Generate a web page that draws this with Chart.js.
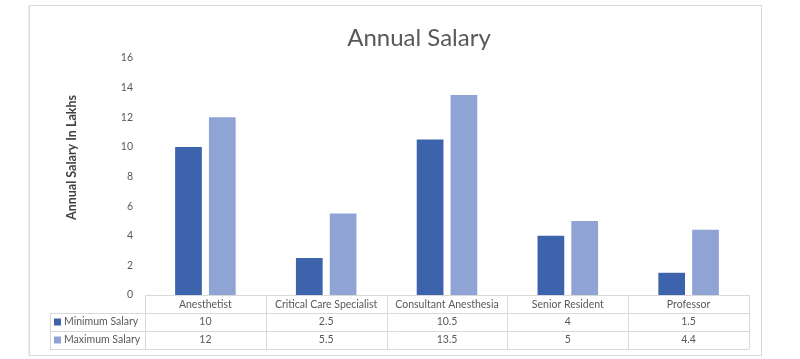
<!DOCTYPE html>
<html>
<head>
<meta charset="utf-8">
<script src="https://cdn.jsdelivr.net/npm/chart.js@4.4.1/dist/chart.umd.min.js"></script>
<style>
  html, body { margin: 0; padding: 0; background: #ffffff; }
  body { width: 800px; height: 359px; position: relative; overflow: hidden; }
  #frame { position: absolute; left: 29px; top: 5px; width: 731px; height: 349px; border: 1px solid #d9d9d9; box-shadow: -1px 0 0 #efefef; }
  #wrap { position: absolute; left: 38px; top: 0; width: 762px; height: 359px; }
</style>
</head>
<body>
<div id="frame"></div>
<div id="wrap"><canvas id="c" width="762" height="359"></canvas></div>
<script>
const categories = ["Anesthetist", "Critical Care Specialist", "Consultant Anesthesia", "Senior Resident", "Professor"];
const minimumSalary = [10, 2.5, 10.5, 4, 1.5];
const maximumSalary = [12, 5.5, 13.5, 5, 4.4];
const minimumLabels = ["10", "2.5", "10.5", "4", "1.5"];
const maximumLabels = ["12", "5.5", "13.5", "5", "4.4"];
const seriesNames = ["Minimum Salary", "Maximum Salary"];
const seriesColors = ["#3c63ac", "#8fa3d5"];
const chartTitle = "Annual Salary";
const yAxisTitle = "Annual Salary In Lakhs";

const FONT = "Lato, 'Open Sans', sans-serif";
const TEXT = "#595959";
const LINE = "#d9d9d9";
const ROW_H = 18;

const tablePlugin = {
  id: 'dataTable',
  afterDraw(chart) {
    const ctx = chart.ctx;
    const area = chart.chartArea;
    const x = chart.scales.x;
    const n = categories.length;
    const left = area.left, right = area.right;
    const top = area.bottom;
    const legendLeft = left - 95;
    const step = (right - left) / n;
    ctx.save();

    // chart title
    ctx.fillStyle = TEXT;
    ctx.font = "24px " + FONT;
    ctx.textAlign = "center";
    ctx.textBaseline = "middle";
    ctx.fillText(chartTitle, chart.width / 2, area.top - 20);

    ctx.strokeStyle = LINE;
    ctx.lineWidth = 1;
    ctx.beginPath();
    // horizontal lines
    ctx.moveTo(left, top + 0.5); ctx.lineTo(right, top + 0.5);
    for (let r = 1; r <= 3; r++) {
      const yy = Math.round(top + r * ROW_H) + 0.5;
      ctx.moveTo(legendLeft, yy); ctx.lineTo(right, yy);
    }
    // vertical lines
    for (let i = 0; i <= n; i++) {
      const xx = Math.round(left + i * step) + 0.5;
      ctx.moveTo(xx, top); ctx.lineTo(xx, top + 3 * ROW_H);
    }
    ctx.moveTo(legendLeft + 0.5, top + ROW_H); ctx.lineTo(legendLeft + 0.5, top + 3 * ROW_H);
    ctx.stroke();

    // values
    ctx.fillStyle = TEXT;
    ctx.font = "10.5px " + FONT;
    ctx.textAlign = "center";
    ctx.textBaseline = "middle";
    const rows = [minimumLabels, maximumLabels];
    rows.forEach((vals, r) => {
      const yy = top + (r + 1.5) * ROW_H;
      vals.forEach((v, i) => {
        ctx.fillText(v, x.getPixelForValue(i), yy);
      });
      // legend key
      ctx.fillStyle = seriesColors[r];
      ctx.fillRect(legendLeft + 4, yy - 3.5, 7, 7);
      ctx.fillStyle = TEXT;
      ctx.textAlign = "left";
      ctx.fillText(seriesNames[r], legendLeft + 14, yy);
      ctx.textAlign = "center";
    });

    // y axis title
    ctx.save();
    ctx.translate(34, (area.top + area.bottom) / 2 - 19);
    ctx.rotate(-Math.PI / 2);
    ctx.font = "bold 12.5px " + FONT;
    ctx.fillStyle = "#404040";
    ctx.textAlign = "center";
    ctx.textBaseline = "middle";
    ctx.fillText(yAxisTitle, 0, 0);
    ctx.restore();
    ctx.restore();
  }
};

new Chart(document.getElementById('c'), {
  type: 'bar',
  data: {
    labels: categories,
    datasets: [
      { label: seriesNames[0], data: minimumSalary, backgroundColor: seriesColors[0] },
      { label: seriesNames[1], data: maximumSalary, backgroundColor: seriesColors[1] }
    ]
  },
  options: {
    responsive: false,
    animation: false,
    devicePixelRatio: 1,
    categoryPercentage: 0.56,
    barPercentage: 0.79,
    layout: { padding: { left: 0, right: 51, top: 58, bottom: 10 + 2 * ROW_H } },
    plugins: {
      legend: { display: false },
      tooltip: { enabled: false },
      title: { display: false }
    },
    scales: {
      x: {
        grid: { display: false, drawTicks: false },
        border: { display: false },
        ticks: { color: TEXT, font: { family: FONT, size: 10.5 }, padding: 3, maxRotation: 0, autoSkip: false },
        afterFit(s) { s.height = ROW_H; }
      },
      y: {
        min: 0, max: 16,
        grid: { display: false, drawTicks: false },
        border: { display: false },
        ticks: { stepSize: 2, color: TEXT, font: { family: FONT, size: 10.5 }, padding: 12 },
        afterFit(s) { s.width = 107; }
      }
    }
  },
  plugins: [tablePlugin]
});
</script>
</body>
</html>
